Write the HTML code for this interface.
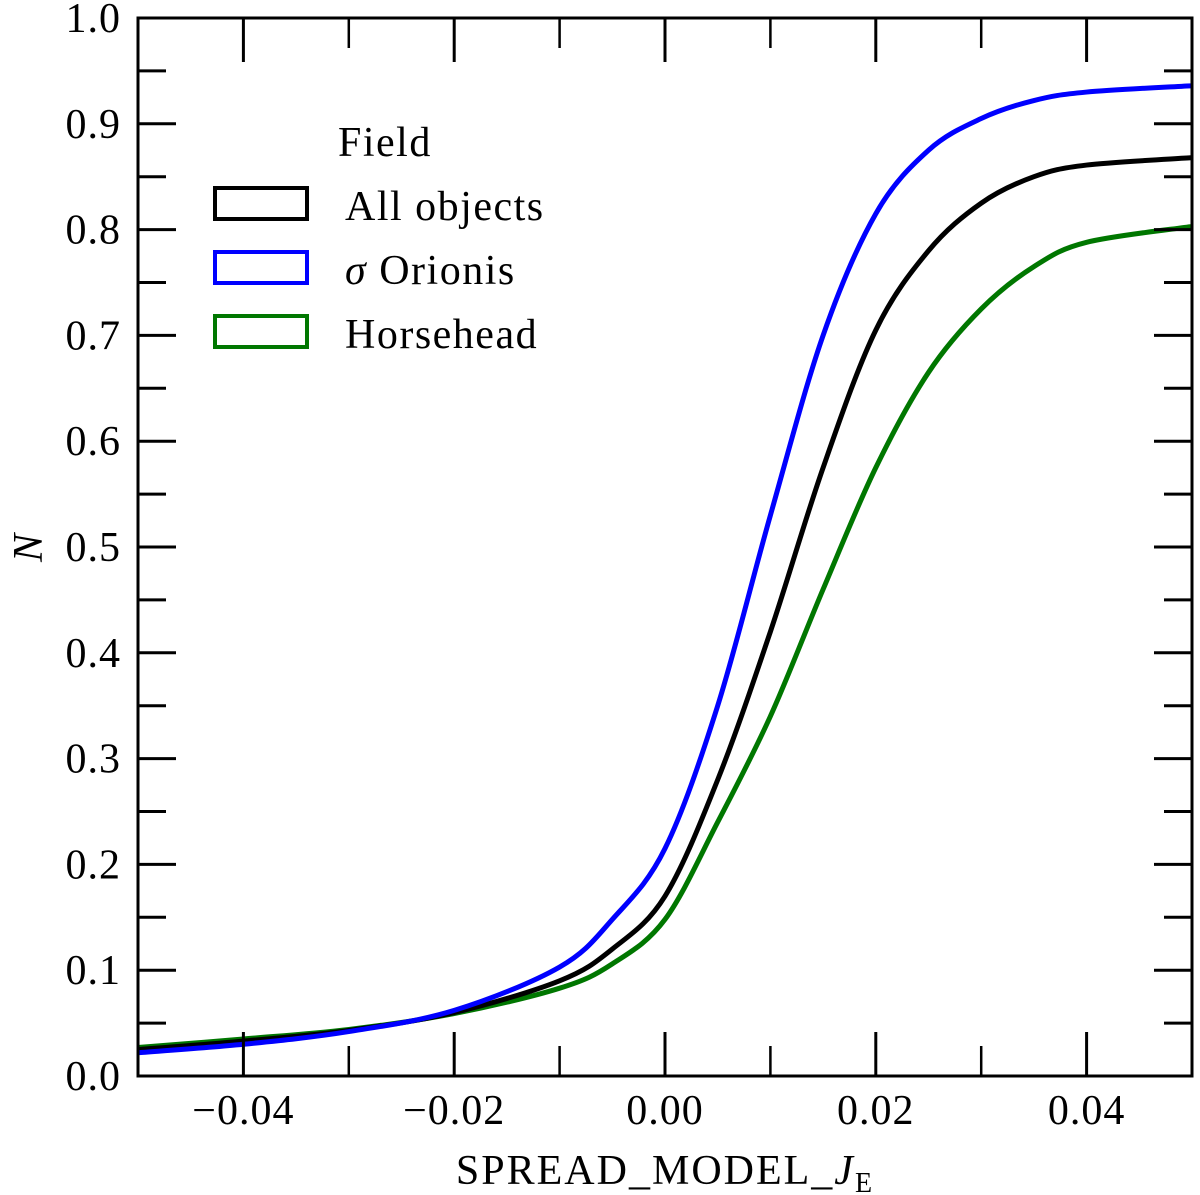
<!DOCTYPE html>
<html><head><meta charset="utf-8"><style>
body{margin:0;background:#fff}
svg{display:block;font-family:"Liberation Serif",serif}
</style></head><body>
<svg id="chart" width="1200" height="1195" viewBox="0 0 1200 1195">
<g id="curves"></g>
<g id="axes"></g>
<rect x="138" y="18" width="1054" height="1058" fill="none" stroke="#000" stroke-width="3"/>
<g font-size="42" letter-spacing="1.5">
<text x="338" y="156">Field</text>
<rect x="215" y="188" width="92" height="31" fill="none" stroke="#000" stroke-width="4"/>
<text x="345" y="220">All objects</text>
<rect x="215" y="252" width="92" height="31" fill="none" stroke="#0000ff" stroke-width="4"/>
<text x="345" y="284"><tspan font-style="italic">σ</tspan> Orionis</text>
<rect x="215" y="316" width="92" height="31" fill="none" stroke="#007700" stroke-width="4"/>
<text x="345" y="348">Horsehead</text>
</g>
<text x="665" y="1184" font-size="42" letter-spacing="2" text-anchor="middle">SPREAD_MODEL_<tspan font-style="italic">J</tspan><tspan font-size="28" dy="8">E</tspan></text>
<text x="0" y="0" font-size="42" font-style="italic" text-anchor="middle" transform="translate(42,548) rotate(-90)">N</text>
</svg>
<script>
const xValues=[-0.05,-0.04,-0.03,-0.02,-0.01,-0.005,0,0.005,0.01,0.015,0.02,0.025,0.03,0.035,0.04,0.05];
const blueValues=[0.022,0.030,0.042,0.062,0.103,0.148,0.215,0.35,0.53,0.70,0.815,0.875,0.905,0.922,0.93,0.936];
const blackValues=[0.025,0.033,0.043,0.060,0.090,0.12,0.17,0.28,0.42,0.575,0.705,0.78,0.825,0.85,0.861,0.868];
const greenValues=[0.027,0.035,0.044,0.059,0.083,0.106,0.148,0.24,0.34,0.46,0.575,0.665,0.725,0.765,0.788,0.803];
const xTicks=[-0.04,-0.02,0,0.02,0.04];
const xTickLabels=["\u22120.04","\u22120.02","0.00","0.02","0.04"];
const yTicks=[0,0.1,0.2,0.3,0.4,0.5,0.6,0.7,0.8,0.9,1.0];
const yTickLabels=["0.0","0.1","0.2","0.3","0.4","0.5","0.6","0.7","0.8","0.9","1.0"];
const X0=138,X1=1192,Y0=1076,Y1=18;
const sx=v=>X0+(v+0.05)/0.1*(X1-X0);
const sy=v=>Y0-v*(Y0-Y1);
const NS="http://www.w3.org/2000/svg";
const axes=document.getElementById('axes');
function line(x1,y1,x2,y2,w,name){const l=document.createElementNS(NS,'line');
l.setAttribute('x1',x1);l.setAttribute('y1',y1);l.setAttribute('x2',x2);l.setAttribute('y2',y2);
l.setAttribute('stroke','#000');l.setAttribute('stroke-width',w);


axes.appendChild(l);}
for(let i=-5;i<=5;i++){const v=i*0.01,x=sx(v),maj=(i%2===0);const L=maj?44:30;
line(x,Y0,x,Y0-L,maj?3:2.5,'x-tick');line(x,Y1,x,Y1+L,maj?3:2.5,'x-tick-top');}
for(let i=0;i<=20;i++){const y=sy(i*0.05),maj=(i%2===0);const L=maj?38:28;
line(X0,y,X0+L,y,3,'y-tick');line(X1,y,X1-L,y,3,'y-tick-right');}
xTicks.forEach((v,i)=>{const t=document.createElementNS(NS,'text');
t.setAttribute('x',sx(v));t.setAttribute('y',1124);t.setAttribute('text-anchor','middle');t.setAttribute('font-size','42');t.setAttribute('letter-spacing','1');
t.textContent=xTickLabels[i];


axes.appendChild(t);});
yTicks.forEach((v,i)=>{const t=document.createElementNS(NS,'text');
t.setAttribute('x',121);t.setAttribute('y',sy(v)+14);t.setAttribute('text-anchor','end');t.setAttribute('font-size','42');t.setAttribute('letter-spacing','1');
t.textContent=yTickLabels[i];


axes.appendChild(t);});
function pathFor(vals){const p=xValues.map((x,i)=>[sx(x),sy(vals[i])]);
let d='M'+p[0][0]+','+p[0][1];
for(let i=0;i<p.length-1;i++){const a=p[Math.max(0,i-1)],b=p[i],c=p[i+1],e=p[Math.min(p.length-1,i+2)];
const c1=[b[0]+(c[0]-a[0])/6,b[1]+(c[1]-a[1])/6],c2=[c[0]-(e[0]-b[0])/6,c[1]-(e[1]-b[1])/6];
d+=' C'+c1+' '+c2+' '+c;}return d;}
const curves=document.getElementById('curves');
[[greenValues,'#007700','curve-horsehead'],[blackValues,'#000','curve-all-objects'],[blueValues,'#0000ff','curve-sigma-orionis']].forEach(([vals,col,name])=>{
const p=document.createElementNS(NS,'path');p.setAttribute('d',pathFor(vals));p.setAttribute('fill','none');
p.setAttribute('stroke',col);p.setAttribute('stroke-width','5');


curves.appendChild(p);});
</script>
</body></html>
